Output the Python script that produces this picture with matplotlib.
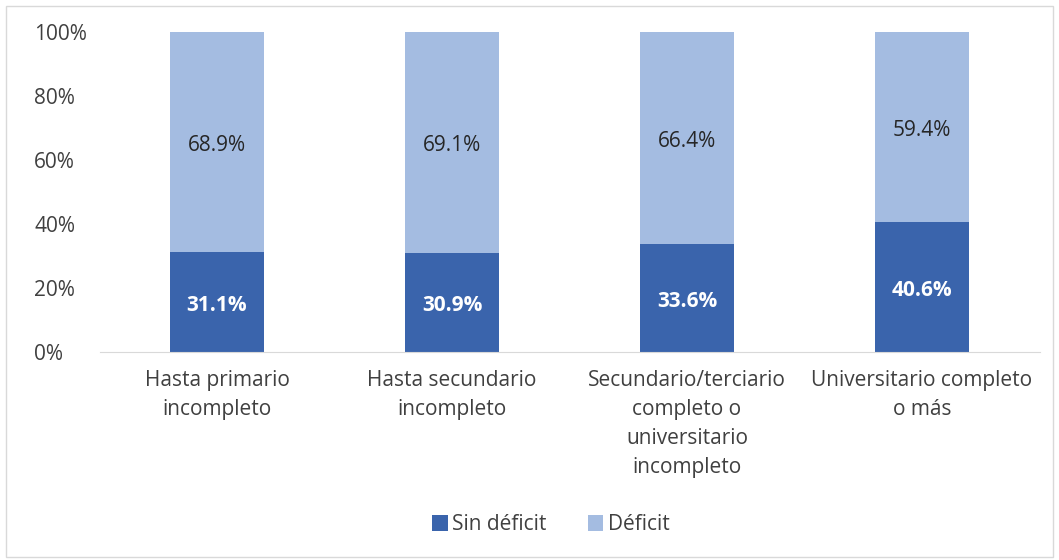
import matplotlib.pyplot as plt
import numpy as np
from matplotlib.patches import Rectangle

categories = [
    "Hasta primario\nincompleto",
    "Hasta secundario\nincompleto",
    "Secundario/terciario\ncompleto o\nuniversitario\nincompleto",
    "Universitario completo\no más",
]
sin_deficit = [31.1, 30.9, 33.6, 40.6]
deficit = [68.9, 69.1, 66.4, 59.4]
yticks = [0, 20, 40, 60, 80, 100]

dark = "#3A64AC"
light = "#A4BCE1"
fs = 15

plt.rcParams["font.family"] = ["Open Sans", "DejaVu Sans"]

fig = plt.figure(figsize=(10.59, 5.6), dpi=100)
ax = fig.add_axes([0.094, 0.3714, 0.8876, 0.5715])

x = np.arange(len(categories))
b1 = ax.bar(x, sin_deficit, width=0.4, color=dark, label="Sin déficit")
b2 = ax.bar(x, deficit, width=0.4, bottom=sin_deficit, color=light, label="Déficit")

for i in range(len(categories)):
    ax.text(x[i], sin_deficit[i] / 2 - 1, f"{sin_deficit[i]:.1f}%", ha="center", va="center",
            color="white", fontsize=fs, fontweight="bold")
    ax.text(x[i], sin_deficit[i] + deficit[i] / 2 - 1, f"{deficit[i]:.1f}%", ha="center", va="center",
            color="#262626", fontsize=fs)

ax.set_xlim(-0.5, len(categories) - 0.5)
ax.set_ylim(0, 100)
ax.set_yticks(yticks)
ax.set_yticklabels([f"{t}%" for t in yticks])
ax.set_xticks(x)
ax.set_xticklabels(categories, linespacing=1.5)
ax.tick_params(axis="both", length=0, labelsize=fs, labelcolor="#404040")
ax.tick_params(axis="y", pad=47)
ax.tick_params(axis="x", pad=13)
for lbl in ax.get_yticklabels():
    lbl.set_horizontalalignment("left")
for side in ["top", "right", "left"]:
    ax.spines[side].set_visible(False)
ax.spines["bottom"].set_color("#D9D9D9")

leg = fig.legend(handles=[b1, b2], loc="center", bbox_to_anchor=(0.52, 0.063), ncol=2,
                 frameon=False, fontsize=fs, handlelength=0.75, handleheight=0.75,
                 handletextpad=0.2, columnspacing=2.0)
for t in leg.get_texts():
    t.set_color("#404040")

fig.patches.append(Rectangle((0.006, 0.005), 0.988, 0.985, transform=fig.transFigure,
                             fill=False, edgecolor="#D9D9D9", linewidth=1))

fig.savefig("out.png", dpi=100)
